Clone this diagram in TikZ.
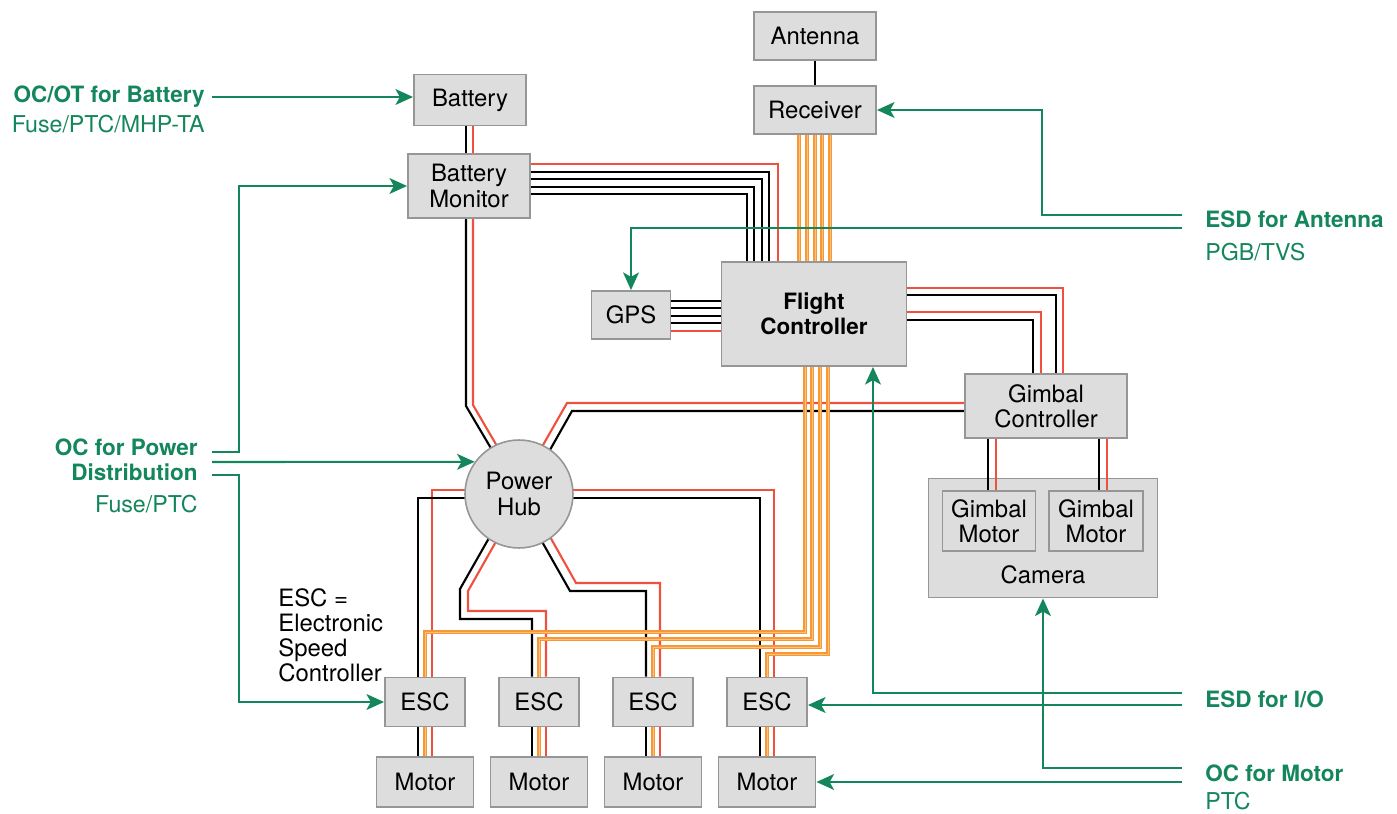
\documentclass[tikz,border=0pt]{standalone}
\usepackage{fontspec}
\setmainfont{TeX Gyre Heros}
\usepackage{tikz}
\usetikzlibrary{arrows.meta,calc,backgrounds}
\definecolor{verde}{RGB}{20,134,92}
\definecolor{rojo}{RGB}{240,80,62}
\definecolor{naranja}{RGB}{248,152,50}
\definecolor{grisfondo}{RGB}{221,221,221}
\definecolor{grisborde}{RGB}{150,150,150}
\newcommand{\letra}{\fontsize{12.8pt}{14.2pt}\selectfont}
\newcommand{\letrac}{\fontsize{13.6pt}{14.3pt}\selectfont}

\begin{document}
\begin{tikzpicture}[x=0.02cm, y=-0.02cm,
  caja/.style={draw=grisborde, fill=grisfondo, line width=1.1pt, align=center,
               font=\letrac, inner sep=2pt},
  cablen/.style={line width=1.2pt, draw=black},
  cabler/.style={line width=1.2pt, draw=rojo},
  cableo/.style={draw=naranja, line width=0.75pt, double=naranja!60, double distance=0.55pt},
  flecha/.style={-{Stealth[length=10pt,width=9pt,inset=2.5pt]}, line width=1.2pt, draw=verde},
  etq/.style={font=\fontsize{13.2pt}{14.2pt}\selectfont, text=verde, inner sep=0pt},
  etqb/.style={etq, font=\letra\bfseries}]
  \useasboundingbox (0,0) rectangle (1397,814);
  % bloques
  \node[caja, minimum width=2.44cm, minimum height=0.96cm] (ant) at (815,36) {Antenna};
  \node[caja, minimum width=2.44cm, minimum height=0.96cm] (rec) at (815,110) {Receiver};
  \node[caja, minimum width=2.24cm, minimum height=1.02cm] (bat) at (470,100) {Battery};
  \node[caja, minimum width=2.44cm, minimum height=1.28cm] (bmon) at (469,186) {Battery\\Monitor};
  \node[caja, minimum width=1.58cm, minimum height=0.96cm] (gps) at (631,315) {GPS};
  \node[caja, minimum width=3.7cm, minimum height=2.08cm, font=\letra\bfseries] (fc) at (814,314) {Flight\\Controller};
  \node[caja, minimum width=3.24cm, minimum height=1.28cm] (gc) at (1046,406) {Gimbal\\Controller};
  \node[caja, minimum width=4.58cm, minimum height=2.38cm,
        label={[anchor=south, font=\letrac, inner sep=8pt]south:Camera}] (cam) at (1043,538) {};
  \node[caja, minimum width=1.86cm, minimum height=1.2cm] (gm1) at (989,521) {Gimbal\\Motor};
  \node[caja, minimum width=1.88cm, minimum height=1.2cm] (gm2) at (1096,521) {Gimbal\\Motor};
  \node[caja, circle, minimum size=2.16cm, line width=0.9pt] (hub) at (519,494) {Power\\Hub};
  \foreach \i/\x in {1/425,2/539,3/653,4/767} {
    \node[caja, minimum width=1.6cm, minimum height=0.98cm] (esc\i) at (\x,702) {ESC};
    \node[caja, minimum width=1.94cm, minimum height=1cm] (mot\i) at (\x,782) {Motor};
  }
  % textos
  \node[etqb, anchor=base east] (ocbat) at (205,103) {OC/OT for Battery};
  \node[etq, anchor=base east] (fbat) at (205,133) {Fuse/PTC/MHP-TA};
  \node[etqb, anchor=east, align=right] (ocpd) at (198,460) {OC for Power\\Distribution};
  \node[etq, anchor=base east] (fpd) at (198,512) {Fuse/PTC};
  \node[font=\letrac, anchor=north west, align=left, inner sep=0pt] (escnota) at (278,588)
       {ESC =\\Electronic\\Speed\\Controller};
  \node[etqb, anchor=base west] (esdant) at (1205,228) {ESD for Antenna};
  \node[etq, anchor=base west] (pgb) at (1205,261) {PGB/TVS};
  \node[etqb, anchor=base west] (esdio) at (1205,707) {ESD for I/O};
  \node[etqb, anchor=base west] (ocmot) at (1205,781) {OC for Motor};
  \node[etq, anchor=base west] (ptc) at (1205,809) {PTC};
  \coordinate (gbat) at (212,97);
  \coordinate (gpd1) at (212,452);
  \coordinate (gpd2) at (212,462);
  \coordinate (gpd3) at (212,475);
  \coordinate (gant1) at (1182,215);
  \coordinate (gant2) at (1182,228);
  \coordinate (gio1) at (1182,693);
  \coordinate (gio2) at (1182,705);
  \coordinate (gmot1) at (1182,768);
  \coordinate (gmot2) at (1182,782);
  % cables
  \begin{scope}[on background layer]
    \draw[cablen] (ant) -- (rec);
    \draw[cablen] (bat.south -| 466,0) -- (bmon.north -| 466,0);
    \draw[cabler] (bat.south -| 473,0) -- (bmon.north -| 473,0);
    \foreach \y/\x/\c in {164/778/cabler,172/769/cablen,179/762/cablen,187/754/cablen,194/747/cablen}
      \draw[\c] (bmon.east |- 0,\y) -| (fc.north -| \x,0);
    \foreach \y/\c in {301/cablen,308/cablen,316/cablen,323/cablen,331/cabler}
      \draw[\c] (gps.east |- 0,\y) -- (fc.west |- 0,\y);
    \foreach \y/\x/\c in {288/1063/cabler,295/1056/cablen,312/1041/cabler,320/1033/cablen}
      \draw[\c] (fc.east |- 0,\y) -| (gc.north -| \x,0);
    \draw[cablen] (bmon.south -| 466,0) -- (466,406) -- ($(hub)+(-1,0)$);
    \draw[cabler] (bmon.south -| 473,0) -- (473,405) -- ($(hub)+(6,0)$);
    \draw[cabler] (gc.west |- 0,403) -- (567,403) -- ($(hub)+(-4,0)$);
    \draw[cablen] (gc.west |- 0,411) -- (572,411) -- ($(hub)+(6,0)$);
    \draw[cabler] ($(hub)+(0,-4)$) -| ($(esc1.north)+(7,0)$);
    \draw[cablen] ($(hub)+(0,4)$) -| ($(esc1.north)+(-7,0)$);
    \draw[cablen] ($(hub)+(-5,0)$) -- (460,589) -- (460,619) -| ($(esc2.north)+(-7,0)$);
    \draw[cabler] ($(hub)+(4,0)$) -- (468,591) -- (468,611) -| ($(esc2.north)+(7,0)$);
    \draw[cablen] ($(hub)+(-4,0)$) -- (570,591) -| ($(esc3.north)+(-7,0)$);
    \draw[cabler] ($(hub)+(7,0)$) -- (576,583) -| ($(esc3.north)+(7,0)$);
    \draw[cabler] ($(hub)+(0,-4)$) -| ($(esc4.north)+(7,0)$);
    \draw[cablen] ($(hub)+(0,4)$) -| ($(esc4.north)+(-7,0)$);
    \foreach \x in {799,807,815,822,830}
      \draw[cableo] (rec.south -| \x,0) -- (fc.north -| \x,0);
    \foreach \x/\y/\e in {805/632/1,812/639/2,820/647/3,828/654/4}
      \draw[cableo] (fc.south -| \x,0) -- (\x,\y) -| (esc\e.north);
    \foreach \i in {1,...,4} {
      \draw[cablen] ($(esc\i.south)+(-7,0)$) -- ($(mot\i.north)+(-7,0)$);
      \draw[cableo] (esc\i.south) -- (mot\i.north);
      \draw[cabler] ($(esc\i.south)+(7,0)$) -- ($(mot\i.north)+(7,0)$);
    }
  \end{scope}
  \foreach \x/\c/\m in {988/cablen/gm1,996/cabler/gm1,1099/cablen/gm2,1107/cabler/gm2}
    \draw[\c] (gc.south -| \x,0) -- (\m.north -| \x,0);
  % protecciones
  \draw[flecha] (gbat) -- (bat.west |- gbat);
  \draw[flecha] (gpd1) -- (239,452) |- (bmon.west);
  \draw[flecha] (gpd2) -- (hub.144);
  \draw[flecha] (gpd3) -- (239,475) |- (esc1.west);
  \draw[flecha] (gant1) -- (1042,215) |- (rec.east);
  \draw[flecha] (gant2) -| (gps.north);
  \draw[flecha] (gio1) -| (fc.south -| 873,0);
  \draw[flecha] (gio2) -- (esc4.east |- gio2);
  \draw[flecha] (gmot1) -| (cam.south);
  \draw[flecha] (gmot2) -- (mot4.east);
\end{tikzpicture}
\end{document}
